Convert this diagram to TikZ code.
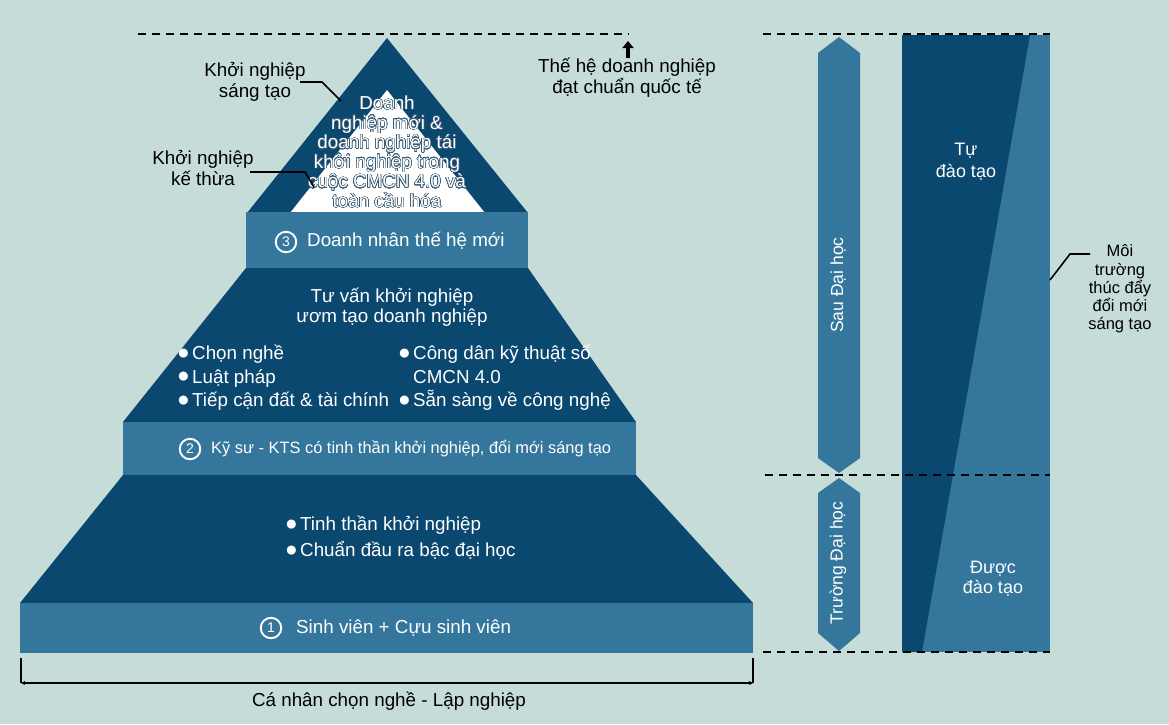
\documentclass[tikz,border=0pt]{standalone}
\usepackage{fontspec}
\setmainfont{Liberation Sans}
\usepackage{contour}
\contourlength{0.45pt}
\contournumber{32}
\usetikzlibrary{arrows.meta}
\definecolor{bg}{HTML}{C5DCD8}
\definecolor{deep}{HTML}{0B4870}
\definecolor{mid}{HTML}{35779C}
\definecolor{edge}{HTML}{3A5C74}

\tikzset{
  lbl/.style={font=\fontsize{18.8}{21}\selectfont, align=center, inner sep=0pt, text=black},
  wlbl/.style={lbl, text=white},
  bandfill/.style={fill=mid},
  blockfill/.style={fill=deep},
  guide/.style={line width=2.8pt, dash pattern=on 8pt off 6pt},
  leader/.style={line width=1.6pt, black},
  num/.style={circle, draw=white, line width=1.9pt, text=white, inner sep=0pt,
    minimum size=20.5pt, font=\fontsize{14}{14}\selectfont},
  hexfill/.style={fill=mid}
}
% bullet: a large dot in a fixed-width box
\newcommand\bul{\makebox[15pt][l]{\raisebox{0.4pt}{\fontsize{21}{21}\selectfont ●}}}

\begin{document}
\begin{tikzpicture}[x=1pt,y=-1pt]
% canvas
\fill[bg] (0,0) rectangle (1169,724);
\useasboundingbox (0,0) rectangle (1169,724);

% ---------- pyramid ----------
\fill[blockfill] (387,38) -- (528,213) -- (247,213) -- cycle;
\fill[white] (387,90) -- (485,213) -- (290,213) -- cycle;
\fill[bandfill] (246,212) rectangle (528,268);
\fill[blockfill] (246,268) -- (528,268) -- (636,422) -- (123,422) -- cycle;
\fill[bandfill] (123,422) rectangle (636,475);
\fill[blockfill] (123,475) -- (636,475) -- (753,603) -- (20,603) -- cycle;
\fill[bandfill] (20,603) rectangle (753,653);

% tip text
\node[wlbl, font=\fontsize{18.8}{19.6}\selectfont] (tip) at (387,152)
  {\contour{edge}{Doanh}\\\contour{edge}{nghiệp mới \&}\\\contour{edge}{doanh nghiệp tái}\\
   \contour{edge}{khởi nghiệp trong}\\\contour{edge}{cuộc CMCN 4.0 và}\\\contour{edge}{toàn cầu hóa}};

% level 3
\node[num] (n3) at (286,242) {3};
\node[wlbl, anchor=west] (t3) at (307,241) {Doanh nhân thế hệ mới};

% consulting block
\node[wlbl, font=\fontsize{18.8}{20.5}\selectfont] (tv) at (392,307) {Tư vấn khởi nghiệp\\ươm tạo doanh nghiệp};
\node[wlbl, align=left, anchor=west, font=\fontsize{18.8}{23.5}\selectfont] (bl) at (177,378)
  {\bul Chọn nghề\\\bul Luật pháp\\\bul Tiếp cận đất \& tài chính};
\node[wlbl, align=left, anchor=west, font=\fontsize{18.8}{23.5}\selectfont] (br) at (398,378)
  {\bul Công dân kỹ thuật số\\\hphantom{\bul}CMCN 4.0\\\bul Sẵn sàng về công nghệ};

% level 2
\node[num] (n2) at (190,449) {2};
\node[wlbl, anchor=west, font=\fontsize{16.4}{18}\selectfont] (t2) at (211,449)
  {Kỹ sư - KTS có tinh thần khởi nghiệp, đổi mới sáng tạo};

% base block
\node[wlbl, align=left, anchor=west, font=\fontsize{18.8}{26}\selectfont] (bb) at (285,538)
  {\bul Tinh thần khởi nghiệp\\\bul Chuẩn đầu ra bậc đại học};

% level 1
\node[num] (n1) at (271,628) {1};
\node[wlbl, anchor=west] (t1) at (296,628) {Sinh viên + Cựu sinh viên};

% side labels with leaders
\node[lbl] (ksang) at (255,82) {Khởi nghiệp\\sáng tạo};
\coordinate (ks0) at (300,82);
\coordinate (ks1) at (322,82);
\coordinate (ks2) at (341,101);
\draw[leader] (ks0) -- (ks1) -- (ks2);

\node[lbl] (kthua) at (203,168) {Khởi nghiệp\\kế thừa};
\coordinate (kt0) at (250,172);
\coordinate (kt1) at (305,172);
\coordinate (kt2) at (314,187);
\draw[leader] (kt0) -- (kt1) -- (kt2);

% top guide and goal
\coordinate (gl) at (138,34);
\coordinate (gr) at (629,34);
\draw[guide] (gl) -- (gr);
\node[lbl] (goal) at (627,78) {Thế hệ doanh nghiệp\\đạt chuẩn quốc tế};
\coordinate (ga) at (628,58);
\coordinate (gb) at (628,41);
\draw[line width=3.4pt, -{Triangle[length=7pt,width=11pt]}] (ga) -- (gb);

% width dimension
\coordinate (dl0) at (21,658);
\coordinate (dl1) at (21,683);
\coordinate (dr0) at (753,658);
\coordinate (dr1) at (753,683);
\draw[line width=1.4pt] (dl0) -- (dl1);
\draw[line width=1.4pt] (dr0) -- (dr1);
\draw[line width=1.4pt, {Stealth[length=4pt,width=4pt]}-{Stealth[length=4pt,width=4pt]}] (dl1) -- (dr1);
\node[lbl] (dim) at (389,701) {Cá nhân chọn nghề - Lập nghiệp};

% ---------- right panel ----------
\fill[mid] (902,35) rectangle (1050,652);
\fill[deep] (902,35) -- (1030,35) -- (922,652) -- (902,652) -- cycle;

\fill[hexfill] (839,37) -- (860,53) -- (860,458) -- (839,473) -- (818,458) -- (818,53) -- cycle;
\fill[hexfill] (839,478) -- (860,493) -- (860,633) -- (839,651) -- (818,633) -- (818,493) -- cycle;
\node[wlbl, rotate=90, font=\fontsize{17.5}{19}\selectfont] (sdh) at (838,285) {Sau Đại học};
\node[wlbl, rotate=90, font=\fontsize{17.5}{19}\selectfont] (tdh) at (838,563) {Trường Đại học};

\coordinate (r1a) at (763,34);  \coordinate (r1b) at (1050,34);
\coordinate (r2a) at (765,475); \coordinate (r2b) at (1050,475);
\coordinate (r3a) at (763,652); \coordinate (r3b) at (1050,652);
\draw[guide] (r1a) -- (r1b);
\draw[guide] (r2a) -- (r2b);
\draw[guide] (r3a) -- (r3b);

\node[wlbl, font=\fontsize{18}{22}\selectfont] (tu) at (966,162) {Tự\\đào tạo};
\node[wlbl, font=\fontsize{18}{20}\selectfont] (duoc) at (993,579) {Được\\đào tạo};

\node[lbl, font=\fontsize{16.5}{18.2}\selectfont] (env) at (1120,289) {Môi\\trường\\thúc đẩy\\đổi mới\\sáng tạo};
\coordinate (e0) at (1090,254);
\coordinate (e1) at (1070,254);
\coordinate (e2) at (1050,280);
\draw[leader] (e0) -- (e1) -- (e2);
\end{tikzpicture}
\end{document}
